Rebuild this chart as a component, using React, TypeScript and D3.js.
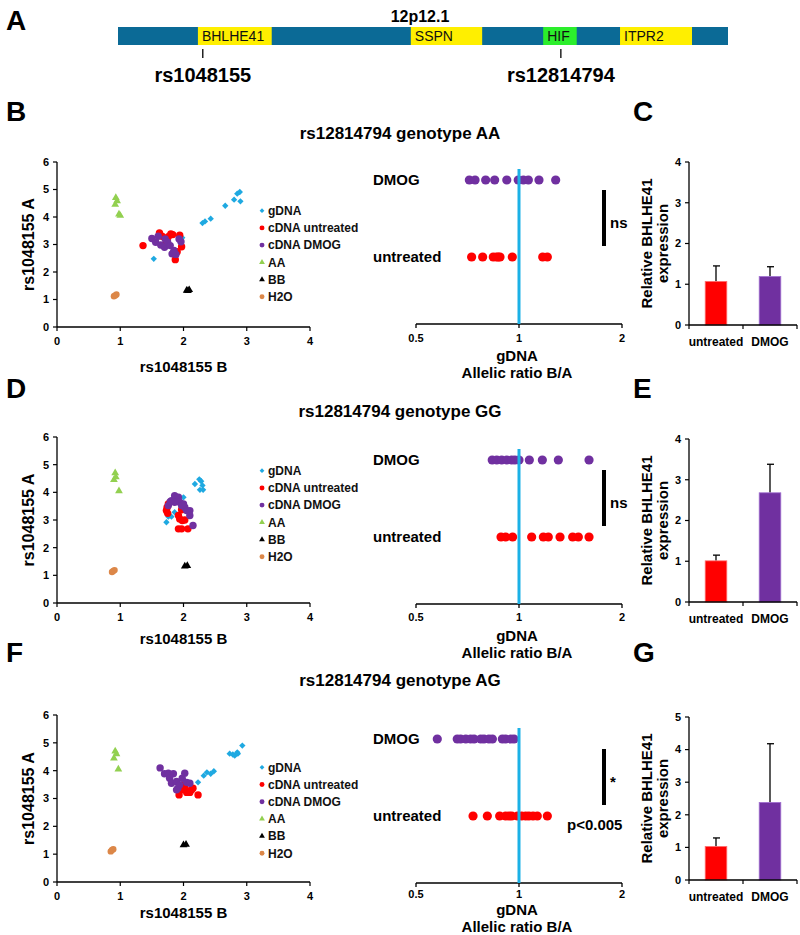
import React from "react";
import * as d3 from "d3";

const FONT = "'Liberation Sans', Arial, Helvetica, sans-serif";

// ---------------- Panel A: locus map ----------------
const regionLabel = "12p12.1";
const geneNames = ["BHLHE41", "SSPN", "HIF", "ITPR2"];
const geneStarts = [13.1, 48.0, 69.7, 82.3];
const geneEnds = [25.2, 59.7, 75.2, 94.1];
const snpNames = ["rs1048155", "rs12814794"];
const snpPositions = [13.9, 72.6];

// ---------------- Scatter (genotyping) ----------------
const seriesNames = ["gDNA", "cDNA untreated", "cDNA DMOG", "AA", "BB", "H2O"];
const scatterXTicks = [0, 1, 2, 3, 4];
const scatterYTicks = [0, 1, 2, 3, 4, 5, 6];
const scatterXLabel = "rs1048155 B";
const scatterYLabel = "rs1048155 A";

type Pt = [number, number];

// Genotype AA
const aaGdna: Pt[] = [[1.53, 2.48], [1.98, 3.25], [2.30, 3.78], [2.34, 3.84], [2.43, 3.94], [2.66, 4.41], [2.80, 4.63], [2.85, 4.85], [2.89, 4.91], [2.90, 4.57]];
const aaUntreated: Pt[] = [[1.36, 2.96], [1.62, 3.42], [1.66, 3.30], [1.72, 3.02], [1.76, 3.28], [1.80, 3.38], [1.83, 3.36], [1.94, 3.34], [1.97, 2.92], [1.90, 2.74], [1.87, 2.45], [1.74, 3.12]];
const aaDmog: Pt[] = [[1.50, 3.22], [1.56, 3.08], [1.60, 3.30], [1.64, 2.98], [1.70, 2.90], [1.71, 3.20], [1.75, 3.08], [1.79, 2.96], [1.82, 2.66], [1.85, 2.78], [1.88, 2.64], [1.93, 3.20], [1.96, 3.10], [1.84, 2.70]];
const aaCtrlAA: Pt[] = [[0.93, 4.70], [0.95, 4.58], [0.92, 4.45], [1.00, 4.05], [0.98, 4.10]];
const aaCtrlBB: Pt[] = [[2.05, 1.33], [2.09, 1.35], [2.07, 1.32]];
const aaH2O: Pt[] = [[0.90, 1.12], [0.92, 1.15], [0.94, 1.18]];

// Genotype GG
const ggGdna: Pt[] = [[2.18, 4.30], [2.25, 4.47], [2.28, 4.40], [2.30, 4.25], [2.26, 4.09], [2.31, 4.09], [1.73, 2.92], [1.76, 3.12], [1.81, 3.12], [1.86, 3.28], [2.00, 3.82]];
const ggUntreated: Pt[] = [[1.73, 3.34], [1.74, 3.45], [1.76, 3.58], [1.75, 3.24], [1.92, 3.16], [1.94, 3.04], [1.97, 3.37], [1.98, 2.98], [2.02, 3.00], [1.92, 2.68], [1.97, 2.68], [2.07, 2.68]];
const ggDmog: Pt[] = [[1.86, 3.88], [1.92, 3.82], [1.81, 3.70], [1.86, 3.64], [1.94, 3.64], [2.00, 3.58], [2.02, 3.46], [2.05, 3.34], [2.10, 3.34], [2.10, 3.16], [2.15, 2.80], [1.76, 3.52], [1.79, 3.66], [1.97, 3.52]];
const ggCtrlAA: Pt[] = [[0.92, 4.70], [0.93, 4.55], [0.90, 4.45], [0.98, 4.05]];
const ggCtrlBB: Pt[] = [[2.02, 1.33], [2.06, 1.35]];
const ggH2O: Pt[] = [[0.87, 1.12], [0.89, 1.16], [0.91, 1.19]];

// Genotype AG
const agGdna: Pt[] = [[2.23, 3.58], [2.32, 3.82], [2.37, 3.94], [2.43, 3.89], [2.48, 3.98], [2.73, 4.61], [2.78, 4.58], [2.81, 4.54], [2.85, 4.66], [2.86, 4.61], [2.93, 4.90]];
const agUntreated: Pt[] = [[1.93, 3.13], [1.97, 3.31], [2.02, 3.37], [2.05, 3.22], [2.10, 3.22], [2.13, 3.31], [2.15, 3.37], [2.23, 3.13], [1.99, 3.49], [2.07, 3.27]];
const agDmog: Pt[] = [[1.63, 4.10], [1.70, 3.89], [1.76, 3.91], [1.84, 3.89], [1.78, 3.73], [1.81, 3.55], [1.89, 3.61], [1.91, 3.37], [1.94, 3.49], [1.98, 3.73], [2.02, 3.91], [2.05, 3.58], [2.10, 3.55], [1.89, 3.31]];
const agCtrlAA: Pt[] = [[0.92, 4.70], [0.94, 4.60], [0.90, 4.45], [0.97, 4.05]];
const agCtrlBB: Pt[] = [[2.00, 1.33], [2.04, 1.35]];
const agH2O: Pt[] = [[0.85, 1.10], [0.87, 1.15], [0.89, 1.18]];

// ---------------- Allelic ratio dot plots ----------------
const ratioTicks = [0.5, 1, 2];
const ratioGroups = ["DMOG", "untreated"];
const ratioXLabel1 = "gDNA";
const ratioXLabel2 = "Allelic ratio B/A";
const aaRatioDmog = [0.716, 0.744, 0.799, 0.849, 0.921, 0.995, 1.03, 1.065, 1.144, 1.28];
const aaRatioUntreated = [0.727, 0.783, 0.841, 0.86, 0.870, 0.880, 0.956, 1.173, 1.21];
const ggRatioDmog = [0.835, 0.861, 0.890, 0.921, 0.952, 0.973, 1.0, 1.072, 1.17, 1.303, 1.602];
const ggRatioUntreated = [0.886, 0.914, 0.958, 1.089, 1.178, 1.218, 1.318, 1.435, 1.491, 1.602];
const agRatioDmog = [0.577, 0.660, 0.675, 0.699, 0.722, 0.739, 0.773, 0.790, 0.817, 0.836, 0.894, 0.914, 0.946, 0.967];
const agRatioUntreated = [0.734, 0.808, 0.878, 0.914, 0.935, 0.952, 0.99, 1.018, 1.046, 1.069, 1.099, 1.131, 1.21];
const sigLabels = ["ns", "ns", "*"];
const pValueLabel = "p<0.005";

// ---------------- Expression bar charts ----------------
const barCategories = ["untreated", "DMOG"];
const barYLabel1 = "Relative BHLHE41";
const barYLabel2 = "expression";
const cMeans = [1.07, 1.19];
const cErrors = [0.38, 0.24];
const eMeans = [1.01, 2.68];
const eErrors = [0.14, 0.70];
const gMeans = [1.03, 2.38];
const gErrors = [0.26, 1.80];
const cTicks = [0, 1, 2, 3, 4];
const eTicks = [0, 1, 2, 3, 4];
const gTicks = [0, 1, 2, 3, 4, 5];

const titles = ["rs12814794 genotype AA", "rs12814794 genotype GG", "rs12814794 genotype AG"];

// ---------------- styles ----------------
const C_CYAN = "#1fa9e1";
const C_RED = "#ff0000";
const C_PURPLE = "#7030a0";
const C_GREEN = "#92d050";
const C_BLACK = "#000000";
const C_ORANGE = "#dc8748";
const seriesColors = [C_CYAN, C_RED, C_PURPLE, C_GREEN, C_BLACK, C_ORANGE];
const seriesShapes = ["diamond", "circle", "circle", "triangle", "triangle", "circle"];

function Marker({ shape, cx, cy, color, s = 1, r = 3.6 }: any) {
  if (shape === "circle") return <circle cx={cx} cy={cy} r={r * s} fill={color} />;
  if (shape === "diamond") {
    const p = d3.symbol(d3.symbolSquare, 20 * s * s)();
    return <path d={p!} transform={`translate(${cx},${cy}) rotate(45)`} fill={color} />;
  }
  const p = d3.symbol(d3.symbolTriangle, 26 * s * s)();
  return <path d={p!} transform={`translate(${cx},${cy})`} fill={color} />;
}

function Scatter({ top, bottom, legendTop, titleOff, series }: { top: number; bottom: number; legendTop: number; titleOff: number; series: Pt[][] }) {
  const x = d3.scaleLinear().domain([0, 4]).range([57, 310]);
  const y = d3.scaleLinear().domain([0, 6]).range([bottom, top]);
  const mid = (top + bottom) / 2;
  return (
    <g fontFamily={FONT}>
      <line x1={x(0)} x2={x(0)} y1={y(6)} y2={y(0)} stroke="#000" strokeWidth={1.3} />
      <line x1={x(0)} x2={x(4)} y1={y(0)} y2={y(0)} stroke="#000" strokeWidth={1.3} />
      {scatterYTicks.map((t) => (
        <g key={"y" + t}>
          <line x1={x(0) - 4} x2={x(0)} y1={y(t)} y2={y(t)} stroke="#000" strokeWidth={1.2} />
          <text x={x(0) - 8} y={y(t)} dy="0.35em" textAnchor="end" fontSize={11} fontWeight="bold">{t}</text>
        </g>
      ))}
      {scatterXTicks.map((t) => (
        <g key={"x" + t}>
          <line x1={x(t)} x2={x(t)} y1={y(0)} y2={y(0) + 4} stroke="#000" strokeWidth={1.2} />
          <text x={x(t)} y={y(0) + 18} textAnchor="middle" fontSize={11} fontWeight="bold">{t}</text>
        </g>
      ))}
      <text x={x(2)} y={y(0) + titleOff} textAnchor="middle" fontSize={15} fontWeight="bold">{scatterXLabel}</text>
      <text transform={`translate(34,${mid}) rotate(-90)`} textAnchor="middle" fontSize={16} fontWeight="bold">{scatterYLabel}</text>
      {series.map((pts, si) =>
        pts.map((p, i) => (
          <Marker key={si + "-" + i} shape={seriesShapes[si]} cx={x(p[0])} cy={y(p[1])} color={seriesColors[si]} r={si === 5 ? 3.2 : 3.7} />
        ))
      )}
      {seriesNames.map((n, i) => (
        <g key={n}>
          <Marker shape={seriesShapes[i]} cx={262} cy={legendTop + i * 17.2} color={seriesColors[i]} s={0.75} r={3.3} />
          <text x={268} y={legendTop + i * 17.2} dy="0.35em" fontSize={12} fontWeight="bold" fill="#111">{n}</text>
        </g>
      ))}
    </g>
  );
}

function DotPlot({ axisY, dmog, untreated, sig, extra, tk, lab1, lab2 }: { axisY: number; dmog: number[]; untreated: number[]; sig: string; extra?: string; tk: number; lab1: number; lab2: number }) {
  const x = d3.scaleLog().base(2).domain([0.5, 2]).range([416, 622]);
  const rowY = d3.scaleOrdinal<string, number>().domain(ratioGroups).range([axisY - 144, axisY - 67]);
  return (
    <g fontFamily={FONT}>
      <line x1={x(0.5)} x2={x(2)} y1={axisY} y2={axisY} stroke="#000" strokeWidth={1.4} />
      {ratioTicks.map((t) => (
        <g key={t}>
          <line x1={x(t)} x2={x(t)} y1={axisY} y2={axisY + 4} stroke="#000" strokeWidth={1.3} />
          <text x={x(t)} y={axisY + tk} textAnchor="middle" fontSize={11} fontWeight="bold">{t}</text>
        </g>
      ))}
      <text x={517} y={axisY + lab1} textAnchor="middle" fontSize={15} fontWeight="bold">{ratioXLabel1}</text>
      <text x={517} y={axisY + lab2} textAnchor="middle" fontSize={15} fontWeight="bold">{ratioXLabel2}</text>
      {ratioGroups.map((g) => (
        <text key={g} x={373} y={rowY(g)} dy="0.35em" fontSize={15} fontWeight="bold">{g}</text>
      ))}
      {dmog.map((v, i) => (
        <circle key={"d" + i} cx={x(v)} cy={rowY("DMOG")} r={4.6} fill={C_PURPLE} />
      ))}
      {untreated.map((v, i) => (
        <circle key={"u" + i} cx={x(v)} cy={rowY("untreated")} r={4.6} fill={C_RED} />
      ))}
      <line x1={x(1)} x2={x(1)} y1={axisY - 155} y2={axisY} stroke="#1bb1e6" strokeWidth={3} />
      <line x1={604} x2={604} y1={axisY - 134} y2={axisY - 78} stroke="#000" strokeWidth={4} />
      <text x={610} y={axisY - 96} fontSize={15} fontWeight="bold">{sig}</text>
      {extra && <text x={567} y={axisY - 53} fontSize={15} fontWeight="bold">{extra}</text>}
    </g>
  );
}

function BarPlot({ top, bottom, yMax, ticks, means, errors }: { top: number; bottom: number; yMax: number; ticks: number[]; means: number[]; errors: number[] }) {
  const y = d3.scaleLinear().domain([0, yMax]).range([bottom, top]);
  const x = d3.scaleBand().domain(barCategories).range([689, 797]).paddingInner(0.6).paddingOuter(0.3);
  const colors = [C_RED, C_PURPLE];
  const strokes = ["#ff7070", "#a070d0"];
  const mid = (top + bottom) / 2;
  return (
    <g fontFamily={FONT}>
      {barCategories.map((c, i) => {
        const cx = x(c)! + x.bandwidth() / 2;
        return (
          <g key={c}>
            <line x1={cx} x2={cx} y1={y(means[i])} y2={y(means[i] + errors[i])} stroke="#000" strokeWidth={1.3} />
            <line x1={cx - 3} x2={cx + 4} y1={y(means[i] + errors[i])} y2={y(means[i] + errors[i])} stroke="#000" strokeWidth={1.3} />
            <rect x={x(c)} y={y(means[i])} width={x.bandwidth()} height={y(0) - y(means[i])} fill={colors[i]} stroke={strokes[i]} strokeWidth={0.8} />
            <text x={cx} y={bottom + 21} textAnchor="middle" fontSize={12} fontWeight="bold">{c}</text>
          </g>
        );
      })}
      <line x1={689} x2={689} y1={y(yMax)} y2={y(0)} stroke="#000" strokeWidth={1.3} />
      <line x1={689} x2={797} y1={y(0)} y2={y(0)} stroke="#000" strokeWidth={1.3} />
      {[689, 743, 797].map((t) => (
        <line key={t} x1={t} x2={t} y1={y(0)} y2={y(0) + 4} stroke="#000" strokeWidth={1.2} />
      ))}
      {ticks.map((t) => (
        <g key={t}>
          <line x1={685} x2={689} y1={y(t)} y2={y(t)} stroke="#000" strokeWidth={1.2} />
          <text x={681} y={y(t)} dy="0.35em" textAnchor="end" fontSize={11} fontWeight="bold">{t}</text>
        </g>
      ))}
      <text transform={`translate(652,${mid}) rotate(-90)`} textAnchor="middle" fontSize={15} fontWeight="bold">{barYLabel1}</text>
      <text transform={`translate(668,${mid}) rotate(-90)`} textAnchor="middle" fontSize={15} fontWeight="bold">{barYLabel2}</text>
    </g>
  );
}

function PanelA() {
  const x = d3.scaleLinear().domain([0, 100]).range([118, 728]);
  return (
    <g fontFamily={FONT}>
      <text x={420} y={22} textAnchor="middle" fontSize={16} fontWeight="bold">{regionLabel}</text>
      <rect x={x(0)} y={27} width={x(100) - x(0)} height={18} fill="#0b6a96" />
      {geneNames.map((g, i) => (
        <g key={g}>
          <rect x={x(geneStarts[i])} y={27} width={x(geneEnds[i]) - x(geneStarts[i])} height={18} fill={g === "HIF" ? "#2cee2c" : "#ffef00"} />
          <text x={x(geneStarts[i]) + 4} y={41} fontSize={14} fill="#111">{g}</text>
        </g>
      ))}
      {snpNames.map((s, i) => (
        <g key={s}>
          <line x1={x(snpPositions[i])} x2={x(snpPositions[i])} y1={49} y2={58} stroke="#000" strokeWidth={1.3} />
          <text x={x(snpPositions[i])} y={82} textAnchor="middle" fontSize={20} fontWeight="bold">{s}</text>
        </g>
      ))}
    </g>
  );
}

const rows = [
  { sTop: 162, sBot: 327, legend: 210.7, dAxis: 324, bTop: 162, bBot: 325, title: 139, letter: 121, xt: 45, tk: 18, l1: 37, l2: 54 },
  { sTop: 437, sBot: 603, legend: 470.7, dAxis: 604, bTop: 439, bBot: 602, title: 417, letter: 398, xt: 41, tk: 17, l1: 37, l2: 54 },
  { sTop: 715, sBot: 882, legend: 767.3, dAxis: 883, bTop: 717, bBot: 880, title: 686, letter: 662, xt: 36, tk: 15, l1: 32, l2: 49 },
];

export default function App() {
  const scatterSets: Pt[][][] = [
    [aaGdna, aaUntreated, aaDmog, aaCtrlAA, aaCtrlBB, aaH2O],
    [ggGdna, ggUntreated, ggDmog, ggCtrlAA, ggCtrlBB, ggH2O],
    [agGdna, agUntreated, agDmog, agCtrlAA, agCtrlBB, agH2O],
  ];
  const dotSets = [
    [aaRatioDmog, aaRatioUntreated],
    [ggRatioDmog, ggRatioUntreated],
    [agRatioDmog, agRatioUntreated],
  ];
  const barSets = [
    { means: cMeans, errors: cErrors, ticks: cTicks, max: 4 },
    { means: eMeans, errors: eErrors, ticks: eTicks, max: 4 },
    { means: gMeans, errors: gErrors, ticks: gTicks, max: 5 },
  ];
  const leftLetters = ["B", "D", "F"];
  const rightLetters = ["C", "E", "G"];
  return (
    <svg width={800} height={935} style={{ position: "absolute", left: 0, top: 0, background: "#fff" }} fontFamily={FONT}>
      <rect width={800} height={935} fill="#fff" />
      <text x={6} y={30} fontSize={28} fontWeight="bold">A</text>
      <PanelA />
      {rows.map((r, i) => (
        <g key={i}>
          <text x={6} y={r.letter} fontSize={28} fontWeight="bold">{leftLetters[i]}</text>
          <text x={633} y={r.letter} fontSize={28} fontWeight="bold">{rightLetters[i]}</text>
          <text x={400} y={r.title} textAnchor="middle" fontSize={17} fontWeight="bold">{titles[i]}</text>
          <Scatter top={r.sTop} bottom={r.sBot} legendTop={r.legend} titleOff={r.xt} series={scatterSets[i]} />
          <DotPlot axisY={r.dAxis} dmog={dotSets[i][0]} untreated={dotSets[i][1]} sig={sigLabels[i]} extra={i === 2 ? pValueLabel : undefined} tk={r.tk} lab1={r.l1} lab2={r.l2} />
          <BarPlot top={r.bTop} bottom={r.bBot} yMax={barSets[i].max} ticks={barSets[i].ticks} means={barSets[i].means} errors={barSets[i].errors} />
        </g>
      ))}
    </svg>
  );
}
